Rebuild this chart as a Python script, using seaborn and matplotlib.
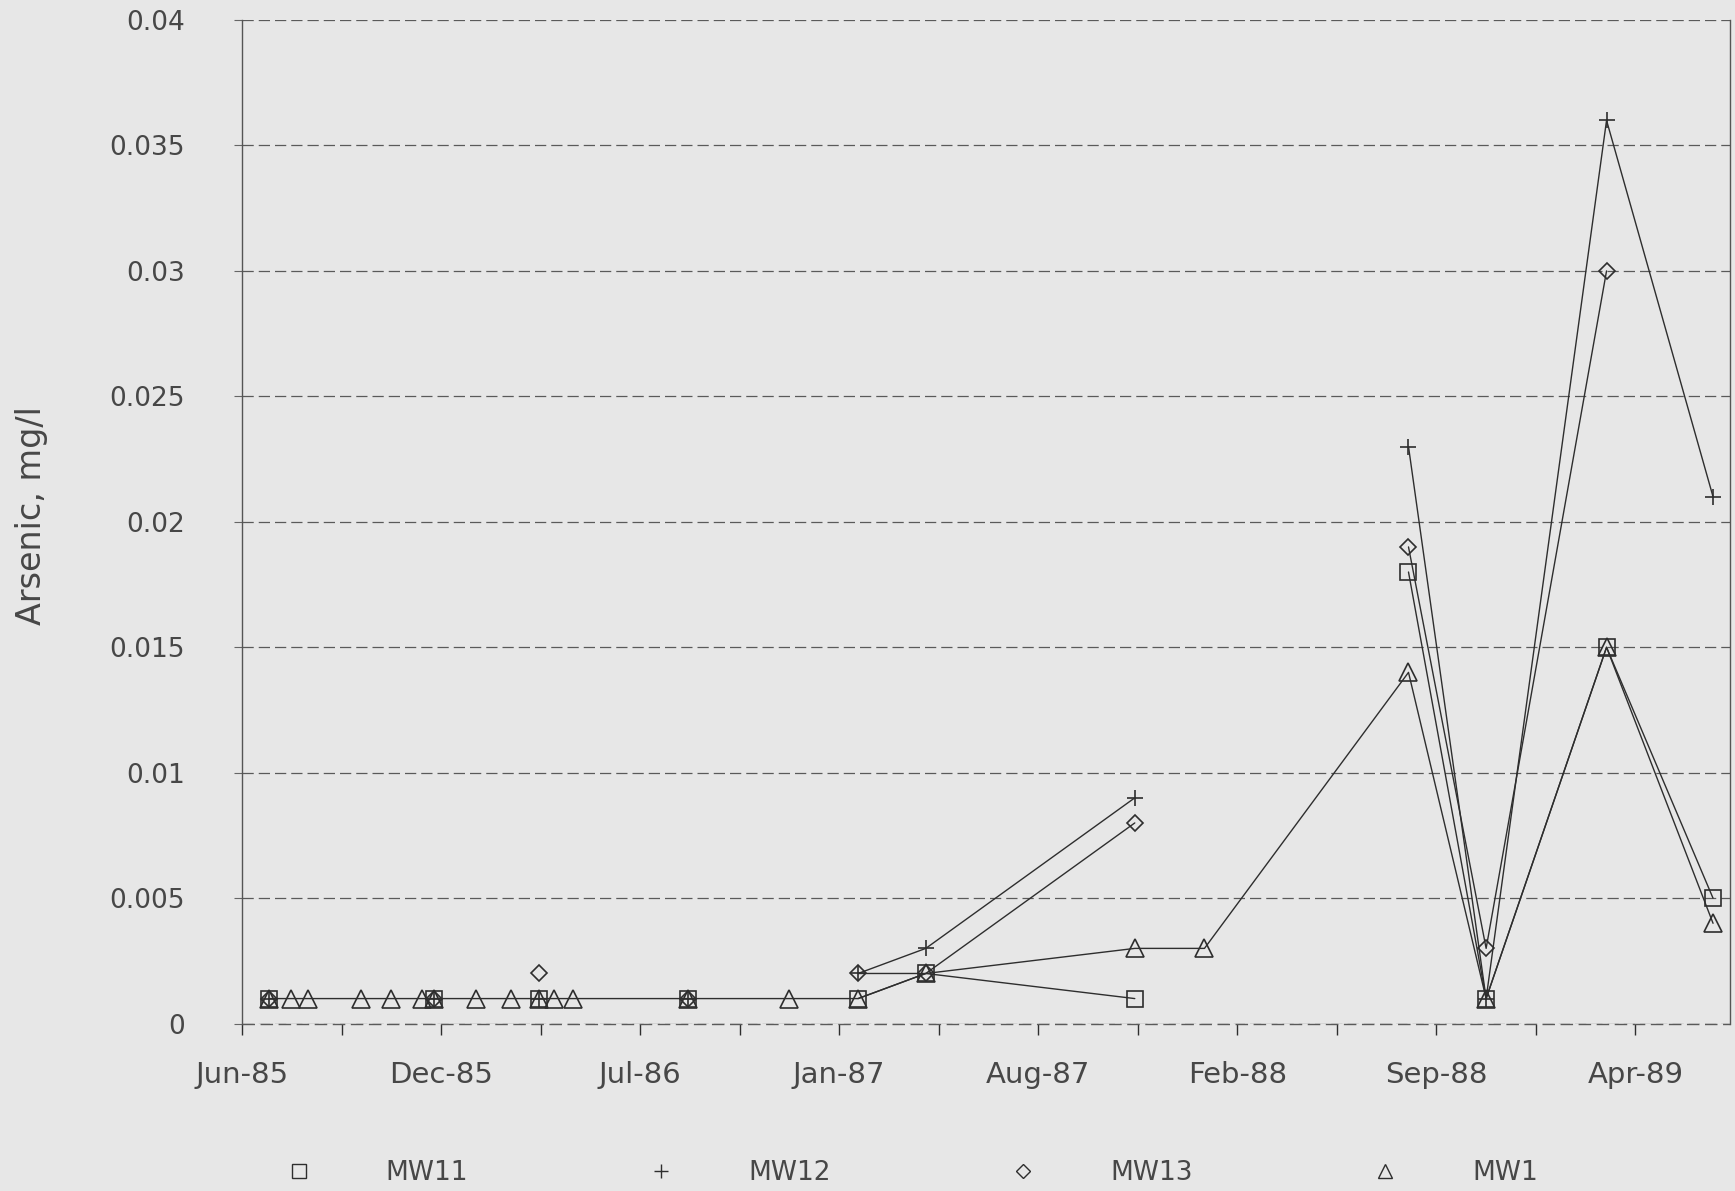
import matplotlib

matplotlib.use("Agg")
import matplotlib.dates as mdates
import matplotlib.pyplot as plt
import numpy as np
import pandas as pd
import seaborn as sns
from matplotlib.lines import Line2D

SAMPLE_DATES = [
    "1985-06-28", "1985-07-20", "1985-08-06", "1985-09-29", "1985-10-29",
    "1985-11-29", "1985-12-11", "1986-01-22", "1986-02-26", "1986-03-26",
    "1986-04-10", "1986-04-30", "1986-08-23", "1986-12-03", "1987-02-10",
    "1987-04-19", "1987-11-15", "1988-01-24", "1988-08-16", "1988-11-02",
    "1989-03-03", "1989-06-18",
]
nan = np.nan
MW11 = [0.001, nan, nan, nan, nan, nan, 0.001, nan, nan, 0.001, nan, nan, 0.001, nan,
        0.001, 0.002, 0.001, nan, 0.018, 0.001, 0.015, 0.005]
MW12 = [0.001, nan, nan, nan, nan, nan, 0.001, nan, nan, 0.001, nan, nan, 0.001, nan,
        0.002, 0.003, 0.009, nan, 0.023, 0.001, 0.036, 0.021]
MW13 = [0.001, nan, nan, nan, nan, nan, 0.001, nan, nan, 0.002, nan, nan, 0.001, nan,
        0.002, 0.002, 0.008, nan, 0.019, 0.003, 0.030, nan]
MW1 = [0.001, 0.001, 0.001, 0.001, 0.001, 0.001, 0.001, 0.001, 0.001, 0.001, 0.001, 0.001,
       0.001, 0.001, 0.001, 0.002, 0.003, 0.003, 0.014, 0.001, 0.015, 0.004]

WELLS = ["MW11", "MW12", "MW13", "MW1"]
Y_TICKS = [0, 0.005, 0.01, 0.015, 0.02, 0.025, 0.03, 0.035, 0.04]
Y_TICK_LABELS = ["0", "0.005", "0.01", "0.015", "0.02", "0.025", "0.03", "0.035", "0.04"]
AXIS_START = "1985-06-01"
TICK_STEP_DAYS = 100
AXIS_DAYS = 1495

INK = "#2e2e2e"
TEXT = "#474747"
PAPER = "#e7e7e7"
GRID = "#5a5a5a"
MARKERS = {"MW11": ("s", 12), "MW12": ("+", 12), "MW13": ("D", 8.5), "MW1": ("^", 12.5)}


def main() -> None:
    sns.set_theme(style="white")
    plt.rcParams["font.family"] = ["DejaVu Sans"]

    wide = pd.DataFrame(
        {"date": pd.to_datetime(SAMPLE_DATES), "MW11": MW11, "MW12": MW12, "MW13": MW13, "MW1": MW1}
    )
    long = wide.melt(id_vars="date", var_name="well", value_name="arsenic")
    # a missing sample breaks the line, so give every unbroken run its own unit
    long["run"] = long.groupby("well")["arsenic"].transform(lambda s: s.isna().cumsum())
    long = long.dropna(subset=["arsenic"])

    fig = plt.figure(figsize=(17.35, 11.91), dpi=100, facecolor=PAPER)
    ax = fig.add_axes([0.1395, 0.1405, 0.8576, 0.8427], facecolor=PAPER)

    for well in WELLS:
        marker, ms = MARKERS[well]
        sns.lineplot(
            data=long[long["well"] == well],
            x="date",
            y="arsenic",
            units="run",
            estimator=None,
            sort=False,
            color=INK,
            lw=1.0,
            marker=marker,
            ms=ms,
            mfc="none",
            mec=INK,
            mew=1.2,
            legend=False,
            ax=ax,
            zorder=3,
        )

    start = pd.Timestamp(AXIS_START)
    ax.set_xlim(mdates.date2num(start), mdates.date2num(start + pd.Timedelta(days=AXIS_DAYS)))
    ax.set_ylim(0, 0.04)

    major = [start + pd.Timedelta(days=d) for d in range(0, 1401, 2 * TICK_STEP_DAYS)]
    minor = [start + pd.Timedelta(days=d) for d in range(TICK_STEP_DAYS, 1401, 2 * TICK_STEP_DAYS)]
    ax.set_xticks(mdates.date2num(major))
    ax.set_xticklabels([d.strftime("%b-%y") for d in major])
    ax.set_xticks(mdates.date2num(minor), minor=True)
    ax.set_yticks(Y_TICKS)
    ax.set_yticklabels(Y_TICK_LABELS)

    ax.tick_params(axis="x", which="both", direction="out", length=8, width=1.0, color=INK,
                   bottom=True, pad=19, labelsize=21, labelcolor=TEXT)
    ax.tick_params(axis="y", direction="out", length=6, width=0.8, color="#666666",
                   left=True, pad=35, labelsize=19, labelcolor=TEXT)

    ax.grid(axis="y", color=GRID, lw=0.9, ls=(0, (9, 4)))
    ax.grid(axis="x", visible=False)
    ax.axhline(0, color=GRID, lw=1.0, ls=(0, (9, 4)), clip_on=False, zorder=2)
    for side in ["top", "bottom"]:
        ax.spines[side].set_visible(False)
    for side in ["left", "right"]:
        ax.spines[side].set_visible(True)
        ax.spines[side].set_color("#555555")
        ax.spines[side].set_linewidth(1.0)
    ax.set_xlabel("")
    ax.set_ylabel("")
    fig.text(31 / 1735, 0.567, "Arsenic, mg/l", rotation=90, ha="center", va="center",
             fontsize=24, color=TEXT)

    handles = [
        Line2D([], [], ls="none", marker=MARKERS[w][0], ms=MARKERS[w][1] * 0.8,
               mfc="none", mec=INK, mew=1.0)
        for w in WELLS
    ]
    fig.legend(
        handles, WELLS, loc="center", bbox_to_anchor=(0.5256, 0.0151), ncol=4, frameon=False,
        fontsize=19, labelcolor=TEXT, handlelength=1.0, handletextpad=2.8, columnspacing=6.8,
    )

    fig.savefig("out.png", dpi=100, facecolor=PAPER)
    plt.close(fig)


if __name__ == "__main__":
    main()
